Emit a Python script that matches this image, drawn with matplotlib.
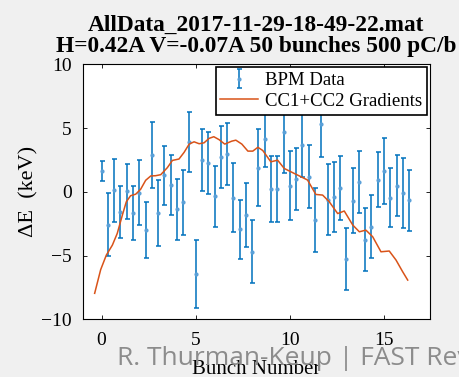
import numpy as np
import matplotlib
matplotlib.use("Agg")
import matplotlib.pyplot as plt

# bunch-by-bunch energy offsets from the BPMs (keV) and their errors
bpm_de = [1.65, -2.56, 0.12, -1.57, 0.05, -1.66, -0.08, -3.0, 2.87, -1.64,
          1.31, 0.57, -1.36, -0.81, 3.89, -6.45, 2.53, 2.25, -0.35, 2.74,
          2.95, -0.47, -2.95, -1.84, -4.68, 1.9, 4.15, 0.2, 0.2, 4.67,
          0.5, 0.99, 3.66, 1.2, -2.2, 5.3, -0.6, -0.4, 0.3, -5.25,
          -0.7, 0.77, -3.75, -2.73, 0.97, 1.63, -0.45, 0.47, -0.1, -0.65]
bpm_err = [0.8, 2.45, 2.45, 2.05, 2.15, 2.13, 2.55, 2.2, 2.6, 2.6,
           2.3, 2.35, 2.4, 2.55, 2.35, 2.67, 2.43, 2.43, 2.37, 2.45,
           2.43, 2.7, 2.33, 2.5, 2.45, 3.0, 2.2, 2.6, 2.6, 3.2,
           2.7, 2.45, 2.5, 2.5, 2.5, 2.6, 2.75, 2.74, 2.5, 2.45,
           2.55, 2.45, 2.48, 2.48, 2.15, 2.6, 2.3, 2.4, 2.75, 2.4]
n_bunch = 50

# energy change expected from the cavity gradients
grad_x = [-0.37, -0.05, 0.25, 0.57, 0.83, 1.10, 1.31, 1.54, 1.81, 2.07,
          2.34, 2.61, 2.87, 3.14, 3.49, 3.76, 4.11, 4.38, 4.65, 4.91,
          5.18, 5.44, 5.71, 5.96, 6.24, 6.54, 6.91, 7.13, 7.45, 7.77,
          8.03, 8.30, 8.56, 8.99, 9.35, 9.70, 10.23, 10.59, 10.94, 11.38,
          11.74, 12.09, 12.54, 12.89, 13.34, 13.69, 14.04, 14.40, 14.84, 15.28,
          15.64, 15.99, 16.26]
grad_de = [-7.96, -6.1, -4.96, -4.18, -3.26, -1.83, -0.78, -0.3, -0.18, 0.2,
           0.91, 1.25, 1.27, 1.35, 1.9, 2.47, 2.58, 3.1, 3.75, 3.93,
           3.78, 3.85, 4.2, 4.33, 4.1, 3.75, 3.98, 4.06, 3.75, 3.2,
           3.2, 3.5, 3.25, 2.36, 2.49, 1.84, 1.45, 1.19, 0.93, -0.2,
           -0.25, -0.77, -1.7, -1.5, -2.6, -3.13, -3.0, -3.52, -4.7, -4.64,
           -5.35, -6.26, -6.92]

title_lines = ["AllData_2017-11-29-18-49-22.mat",
               "H=0.42A V=-0.07A 50 bunches 500 pC/b"]

serif = ["Liberation Serif", "DejaVu Serif"]
blue = "#0072BD"
orange = "#D95319"

fig = plt.figure(figsize=(4.6, 3.77), dpi=100, facecolor="#f0f0f0")
ax = fig.add_axes([0.18, 0.153, 0.755, 0.676])

x = np.arange(n_bunch) / 3.0
eb = ax.errorbar(x, bpm_de, yerr=bpm_err, fmt=".", color=blue, ms=4,
                 mfc="#5aa0d8", mec="#5aa0d8", elinewidth=1.1, capsize=1.8,
                 capthick=1.1, label="BPM Data", zorder=2)
ln, = ax.plot(grad_x, grad_de, color=orange, lw=1.1,
              label="CC1+CC2 Gradients", zorder=3)

ax.set_xlim(-1, 17.45)
ax.set_ylim(-10, 10)
ax.set_xticks([0, 5, 10, 15])
ax.set_yticks([-10, -5, 0, 5, 10])
ax.tick_params(direction="in", top=True, right=True, length=3, width=0.6,
               labelsize=14)
ax.tick_params(axis="x", pad=9)
ax.tick_params(axis="y", pad=8)
for lab in ax.get_xticklabels() + ax.get_yticklabels():
    lab.set_family(serif)
for sp in ax.spines.values():
    sp.set_linewidth(0.8)

ax.set_ylabel("ΔE  (keV)", family=serif, fontsize=16, labelpad=2)
ax.set_xlabel("Bunch Number", family=serif, fontsize=15, labelpad=8)
ax.set_title("\n".join(title_lines), family=serif, fontsize=16.8,
             fontweight="bold", linespacing=1.0, pad=9)

leg = ax.legend([eb, ln], ["BPM Data", "CC1+CC2 Gradients"],
                loc="upper right", prop={"family": serif, "size": 13.5},
                frameon=True, fancybox=False, framealpha=1, edgecolor="black",
                borderaxespad=0.15, handlelength=2.0, borderpad=0.25,
                labelspacing=0.2, handletextpad=0.4)
leg.get_frame().set_linewidth(1.2)

fig.text(0.255, 0.032, "R. Thurman-Keup | FAST Review", family="Open Sans",
         fontsize=19, color="#8c8c8c", ha="left", va="baseline")

fig.savefig("out.png", dpi=100, facecolor=fig.get_facecolor())
